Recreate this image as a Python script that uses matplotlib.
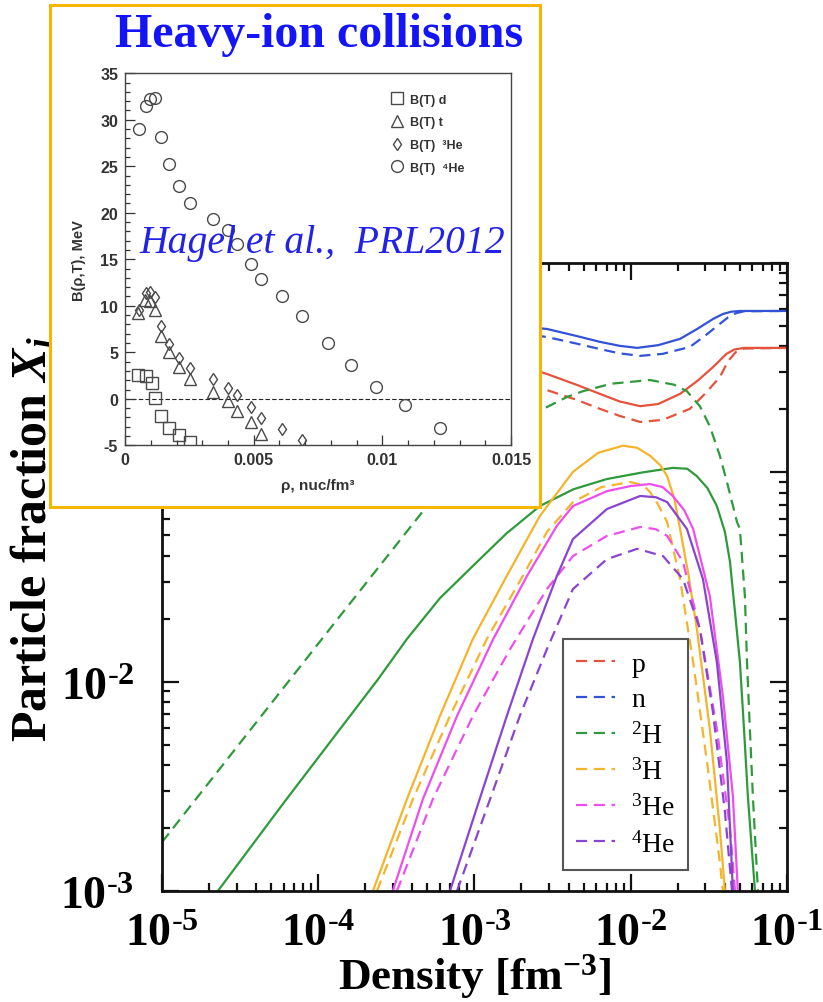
import matplotlib.pyplot as plt
from matplotlib.lines import Line2D
from matplotlib.patches import Rectangle
from matplotlib.ticker import FixedLocator, LogLocator, NullFormatter, MultipleLocator

plt.rcParams['mathtext.fontset'] = 'custom'
plt.rcParams['mathtext.rm'] = 'Liberation Serif'
plt.rcParams['mathtext.bf'] = 'Liberation Serif:bold'
plt.rcParams['mathtext.it'] = 'Liberation Serif:bold:italic'

# ---- main plot: particle fractions vs density (solid / dashed models) ----
p_sol_x = [1e-5, 1e-3, 2.91e-3, 4.5e-3, 6.35e-3, 8.5e-3, 1.15e-2, 1.5e-2, 2.07e-2, 2.7e-2, 3.36e-2, 4.1e-2, 4.6e-2, 5.3e-2, 0.1]
p_sol_y = [0.45, 0.38, 0.295, 0.262, 0.237, 0.218, 0.207, 0.212, 0.237, 0.275, 0.318, 0.368, 0.386, 0.393, 0.393]
p_dash_x = [1e-5, 1e-3, 2.91e-3, 4.5e-3, 6.35e-3, 8.5e-3, 1.15e-2, 1.6e-2, 2.39e-2, 3.0e-2, 3.72e-2, 4.2e-2, 4.7e-2, 5.3e-2, 0.1]
p_dash_y = [0.43, 0.33, 0.247, 0.222, 0.201, 0.186, 0.174, 0.178, 0.201, 0.238, 0.285, 0.34, 0.375, 0.390, 0.393]
n_sol_x = [1e-5, 1e-3, 2.91e-3, 4.5e-3, 6.35e-3, 8.5e-3, 1.1e-2, 1.5e-2, 2.07e-2, 2.7e-2, 3.36e-2, 3.9e-2, 4.4e-2, 5.0e-2, 0.1]
n_sol_y = [0.55, 0.52, 0.484, 0.448, 0.420, 0.402, 0.393, 0.405, 0.434, 0.487, 0.540, 0.571, 0.585, 0.590, 0.590]
n_dash_x = [1e-5, 1e-3, 2.91e-3, 4.5e-3, 6.35e-3, 8.5e-3, 1.15e-2, 1.6e-2, 2.39e-2, 3.0e-2, 3.72e-2, 4.2e-2, 4.7e-2, 5.3e-2, 0.1]
n_dash_y = [0.53, 0.49, 0.443, 0.412, 0.388, 0.370, 0.360, 0.368, 0.397, 0.450, 0.512, 0.550, 0.575, 0.588, 0.590]
d_sol_x = [2.28e-5, 6e-5, 1.38e-4, 2.4e-4, 3.70e-4, 6.0e-4, 9.77e-4, 1.6e-3, 2.62e-3, 4.3e-3, 7.05e-3, 1.2e-2, 1.86e-2,
           2.3e-2, 2.65e-2, 3.1e-2, 3.56e-2, 4.01e-2, 4.32e-2, 4.65e-2, 5.0e-2, 5.31e-2, 5.62e-2, 6.24e-2]
d_sol_y = [1.0e-3, 2.63e-3, 5.94e-3, 1.02e-2, 1.60e-2, 2.5e-2, 3.57e-2, 5.1e-2, 6.9e-2, 8.3e-2, 9.29e-2, 0.1, 0.105,
           0.104, 0.0959, 0.084, 6.9e-2, 5.19e-2, 3.73e-2, 2.15e-2, 1.24e-2, 5.94e-3, 2.84e-3, 1.0e-3]
d_dash_x = [1e-5, 1.38e-4, 4.97e-4, 1.26e-3, 2.91e-3, 3.91e-3, 4.94e-3, 7.5e-3, 1.33e-2, 1.9e-2, 2.29e-2, 2.77e-2,
            3.21e-2, 3.72e-2, 4.13e-2, 4.79e-2, 5.0e-2, 5.38e-2, 5.55e-2, 5.79e-2, 6.05e-2, 6.52e-2]
d_dash_y = [1.71e-3, 2.06e-2, 6.90e-2, 0.158, 0.205, 0.229, 0.244, 0.265, 0.276, 0.262, 0.244, 0.207,
            0.166, 0.120, 0.0899, 0.0579, 0.0536, 0.0256, 1.24e-2, 5.94e-3, 2.84e-3, 1.0e-3]
t_sol_x = [2.24e-4, 3.70e-4, 6.01e-4, 9.77e-4, 1.61e-3, 2.62e-3, 4.27e-3, 6.2e-3, 8.91e-3, 1.1e-2, 1.33e-2, 1.55e-2,
           1.71e-2, 1.9e-2, 2.07e-2, 2.35e-2, 2.65e-2, 3.21e-2, 3.72e-2, 4.01e-2]
t_sol_y = [1.0e-3, 2.75e-3, 6.85e-3, 1.60e-2, 3.20e-2, 6.18e-2, 0.1005, 0.124, 0.134, 0.131, 0.120, 0.108,
           0.0959, 0.075, 0.0536, 0.032, 1.79e-2, 5.94e-3, 1.98e-3, 1.0e-3]
t_dash_x = [2.38e-4, 4.04e-4, 6.97e-4, 1.20e-3, 2.04e-3, 2.91e-3, 4.27e-3, 6.5e-3, 9.89e-3, 1.2e-2, 1.33e-2, 1.5e-2,
            1.71e-2, 2.07e-2, 2.51e-2, 3.08e-2, 3.72e-2, 3.89e-2]
t_dash_y = [1.0e-3, 2.75e-3, 6.85e-3, 1.60e-2, 3.20e-2, 5.19e-2, 7.21e-2, 8.5e-2, 8.99e-2, 8.7e-2, 8.05e-2, 7.0e-2,
            5.79e-2, 3.09e-2, 1.24e-2, 4.13e-3, 1.37e-3, 1.0e-3]
he3_sol_x = [3.0e-4, 4.68e-4, 7.73e-4, 1.32e-3, 2.17e-3, 3.37e-3, 4.27e-3, 7.05e-3, 1.0e-2, 1.33e-2, 1.6e-2,
             1.86e-2, 2.2e-2, 2.51e-2, 3.21e-2, 3.89e-2, 4.51e-2, 4.85e-2]
he3_sol_y = [1.0e-3, 2.75e-3, 6.85e-3, 1.60e-2, 3.20e-2, 5.55e-2, 6.90e-2, 8.13e-2, 8.6e-2, 8.79e-2, 8.5e-2,
             7.71e-2, 6.6e-2, 5.36e-2, 2.56e-2, 8.53e-3, 2.84e-3, 1.0e-3]
he3_dash_x = [3.19e-4, 5.42e-4, 9.77e-4, 1.69e-3, 2.91e-3, 4.27e-3, 7.05e-3, 1.15e-2, 1.45e-2, 1.71e-2, 2.16e-2,
              2.77e-2, 3.56e-2, 4.32e-2, 4.65e-2]
he3_dash_y = [1.0e-3, 2.75e-3, 6.85e-3, 1.43e-2, 2.77e-2, 3.98e-2, 4.97e-2, 5.48e-2, 5.35e-2, 4.97e-2, 3.73e-2,
              1.79e-2, 5.94e-3, 1.98e-3, 1.0e-3]
he4_sol_x = [6.97e-4, 1.08e-3, 1.61e-3, 2.37e-3, 3.37e-3, 4.27e-3, 7.05e-3, 1.15e-2, 1.45e-2, 1.71e-2, 2.29e-2,
             2.90e-2, 3.56e-2, 4.13e-2, 4.51e-2]
he4_sol_y = [1.0e-3, 2.75e-3, 6.85e-3, 1.60e-2, 3.20e-2, 4.80e-2, 6.68e-2, 7.71e-2, 7.6e-2, 7.21e-2, 5.36e-2,
             3.09e-2, 1.24e-2, 4.13e-3, 1.0e-3]
he4_dash_x = [7.73e-4, 1.26e-3, 1.95e-3, 2.91e-3, 4.27e-3, 7.05e-3, 1.10e-2, 1.61e-2, 2.16e-2, 2.77e-2, 3.36e-2,
              4.01e-2, 4.45e-2]
he4_dash_y = [1.0e-3, 2.75e-3, 6.85e-3, 1.43e-2, 2.77e-2, 3.85e-2, 4.31e-2, 3.98e-2, 3.09e-2, 1.79e-2, 7.16e-3,
              2.38e-3, 1.0e-3]

species = ['p', 'n', r'$^{2}$H', r'$^{3}$H', r'$^{3}$He', r'$^{4}$He']
colors = ['#e5533d', '#3352d6', '#2f9a3c', '#f4b42c', '#ec4fec', '#8a45cf']
solid = [(p_sol_x, p_sol_y), (n_sol_x, n_sol_y), (d_sol_x, d_sol_y),
         (t_sol_x, t_sol_y), (he3_sol_x, he3_sol_y), (he4_sol_x, he4_sol_y)]
dashed = [(p_dash_x, p_dash_y), (n_dash_x, n_dash_y), (d_dash_x, d_dash_y),
          (t_dash_x, t_dash_y), (he3_dash_x, he3_dash_y), (he4_dash_x, he4_dash_y)]

x_ticks = [1e-5, 1e-4, 1e-3, 1e-2, 1e-1]
x_ticklabels = [r'$\mathbf{10^{\text{-}5}}$', r'$\mathbf{10^{\text{-}4}}$', r'$\mathbf{10^{\text{-}3}}$',
                r'$\mathbf{10^{\text{-}2}}$', r'$\mathbf{10^{\text{-}1}}$']
y_ticks = [1e-3, 1e-2, 1e-1, 1]
y_ticklabels = [r'$\mathbf{10^{\text{-}3}}$', r'$\mathbf{10^{\text{-}2}}$', r'$\mathbf{10^{\text{-}1}}$', r'$\mathbf{10^{0}}$']

# ---- inset: Hagel et al. binding energies ----
d_rho = [0.00051, 0.00081, 0.00104, 0.00115, 0.00139, 0.00172, 0.00208, 0.00254]
d_B = [2.53, 2.5, 1.7, 0.1, -1.8, -3.1, -3.9, -4.6]
t_rho = [0.00051, 0.00078, 0.00097, 0.00115, 0.00139, 0.00172, 0.00208, 0.00254, 0.0034, 0.00399, 0.00435, 0.00489, 0.0053]
t_B = [9.27, 10.6, 10.5, 9.6, 6.8, 5.0, 3.4, 2.1, 0.75, -0.2, -1.3, -2.5, -3.75]
he3_rho = [0.00054, 0.00081, 0.00097, 0.00115, 0.00139, 0.00172, 0.00208, 0.00254, 0.0034, 0.00399, 0.00435, 0.00489, 0.0053, 0.00611, 0.00689]
he3_B = [9.5, 11.4, 11.5, 10.9, 7.8, 5.9, 4.4, 3.35, 2.1, 1.2, 0.4, -0.85, -2.1, -3.2, -4.4]
he4_rho = [0.00054, 0.00081, 0.00097, 0.00115, 0.00139, 0.00172, 0.00208, 0.00254, 0.0034, 0.00399,
           0.00435, 0.00489, 0.0053, 0.00611, 0.00689, 0.00788, 0.00878, 0.00976, 0.01086, 0.01222]
he4_B = [29.05, 31.5, 32.2, 32.3, 28.1, 25.25, 22.85, 21.1, 19.3, 18.2,
         16.6, 14.5, 12.85, 11.0, 8.9, 6.0, 3.6, 1.3, -0.7, -3.1]

fig = plt.figure(figsize=(8.23, 10.03), dpi=100)

ax = fig.add_axes([0.1968, 0.1107, 0.7594, 0.6261])
ax.set_zorder(0)
for (sx, sy), (dx, dy), c in zip(solid, dashed, colors):
    ax.plot(sx, sy, color=c, lw=1.6, solid_capstyle='butt')
    ax.plot(dx, dy, color=c, lw=1.6, ls=(0, (5, 3)))
ax.set_xscale('log')
ax.set_yscale('log')
ax.set_xlim(1e-5, 1e-1)
ax.set_ylim(1e-3, 1)
ax.xaxis.set_major_locator(FixedLocator(x_ticks))
ax.yaxis.set_major_locator(FixedLocator(y_ticks))
ax.xaxis.set_minor_locator(LogLocator(base=10, subs=range(2, 10)))
ax.yaxis.set_minor_locator(LogLocator(base=10, subs=range(2, 10)))
ax.xaxis.set_minor_formatter(NullFormatter())
ax.yaxis.set_minor_formatter(NullFormatter())
ax.set_xticklabels(x_ticklabels, fontsize=33)
ax.set_yticklabels(y_ticklabels, fontsize=33)
ax.tick_params(which='both', direction='in', top=True, right=True, width=1.6, color='#111')
ax.tick_params(which='major', length=12, pad=14)
ax.tick_params(axis='y', which='major', pad=20)
ax.tick_params(which='minor', length=6)
for s in ax.spines.values():
    s.set_linewidth(2.0)
    s.set_color('#111')
ax.set_xlabel(r'Density [fm$^{\mathbf{-3}}$]', fontsize=32.5, fontweight='bold', family='Liberation Serif', labelpad=-3)
ax.set_ylabel(r'Particle fraction $X_i$', fontsize=36, fontweight='bold', family='Liberation Serif')
ax.yaxis.set_label_coords(-0.168, 0.562)

handles = [Line2D([], [], color=c, lw=1.6, ls=(0, (5, 3))) for c in colors]
leg = ax.legend(handles, species, loc='upper left', bbox_to_anchor=(0.642, 0.401), borderaxespad=0,
                prop={'family': 'Liberation Serif', 'size': 20}, frameon=True, fancybox=False,
                edgecolor='#555', framealpha=1, handlelength=1.4, handletextpad=0.6,
                labelspacing=0.35, borderpad=0.45)
leg.get_frame().set_linewidth(1.5)

# yellow frame behind the inset
fig.add_artist(Rectangle((0.0608, 0.4935), 0.595, 0.501, transform=fig.transFigure,
                         facecolor='white', edgecolor='#f7b500', lw=2.2, zorder=1))

ax_in = fig.add_axes([0.152, 0.555, 0.469, 0.371])
ax_in.set_zorder(2)
gray = '#4a4a4a'
ax_in.plot(d_rho, d_B, 's', mfc='none', mec=gray, ms=8, mew=1.0, label='B(T) d')
ax_in.plot(t_rho, t_B, '^', mfc='none', mec=gray, ms=8.5, mew=1.0, label='B(T) t')
ax_in.plot(he3_rho, he3_B, 'd', mfc='none', mec=gray, ms=6.5, mew=1.0, label='B(T)  ³He')
ax_in.plot(he4_rho, he4_B, 'o', mfc='none', mec=gray, ms=8.5, mew=1.0, label='B(T)  ⁴He')
ax_in.axhline(0, color='#222', lw=0.8, ls=(0, (4, 2)), zorder=0)
ax_in.set_xlim(0, 0.015)
ax_in.set_ylim(-5, 35)
sans = ['Liberation Sans', 'DejaVu Sans']
ax_in.set_xticks([0, 0.005, 0.01, 0.015], ['0', '0.005', '0.01', '0.015'],
                 fontsize=11.5, fontweight='bold', family=sans, color='#333')
ax_in.set_yticks(range(-5, 36, 5), [str(v) for v in range(-5, 36, 5)],
                 fontsize=11.5, fontweight='bold', family=sans, color='#333')
ax_in.xaxis.set_minor_locator(MultipleLocator(0.001))
ax_in.yaxis.set_minor_locator(MultipleLocator(1))
ax_in.tick_params(which='both', direction='in', color='#333', width=0.9)
ax_in.tick_params(which='major', length=7, pad=5)
ax_in.tick_params(which='minor', length=3.5)
for s in ax_in.spines.values():
    s.set_linewidth(1.0)
    s.set_color('#444')
ax_in.set_xlabel('ρ, nuc/fm³', fontsize=11, fontweight='bold', family=sans, color='#333', labelpad=8)
ax_in.set_ylabel('B(ρ,T), MeV', fontsize=10.5, fontweight='bold', family=sans, color='#333', labelpad=10)
ax_in.legend(loc='upper left', bbox_to_anchor=(0.655, 0.975), frameon=False, numpoints=1,
             handlelength=1.2, handletextpad=0.5, labelspacing=0.85,
             prop={'family': sans, 'weight': 'bold', 'size': 9}, labelcolor='#333')

fig.text(319 / 823, 1 - 35 / 1003, 'Heavy-ion collisions', ha='center', va='center', fontsize=34.5,
         fontweight='bold', family='Liberation Serif', color='#1414f8', zorder=5)
fig.text(139 / 823, 1 - 243 / 1003, 'Hagel et al.,  PRL2012', ha='left', va='center', fontsize=28.5,
         style='italic', family='Liberation Serif', color='#2222e6', zorder=5)

fig.savefig('out.png', dpi=100)
